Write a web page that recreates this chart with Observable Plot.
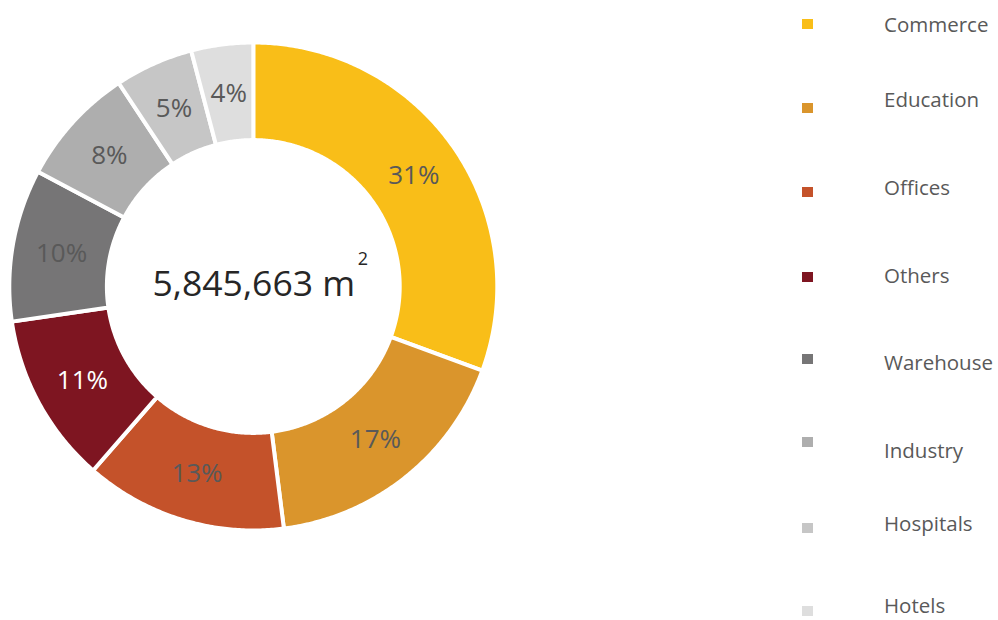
<!DOCTYPE html>
<html>
<head>
<meta charset="utf-8">
<script src="https://cdn.jsdelivr.net/npm/d3@7"></script>
<script src="https://cdn.jsdelivr.net/npm/@observablehq/plot@0.6"></script>
<style>
  html, body { margin: 0; padding: 0; background: #fff; overflow: hidden; }
  #wrap { position: relative; width: 998px; height: 620px; font-family: "Open Sans", sans-serif; }
  #legend { position: absolute; left: 0; top: 0; }
  .sw { position: absolute; width: 11px; height: 10px; }
  .lb { position: absolute; font-size: 20.5px; line-height: 18px; color: #595959; white-space: nowrap; }
</style>
</head>
<body>
<div id="wrap"><div id="legend"></div></div>
<script>
// ---- data ----
const categories = ["Commerce", "Education", "Offices", "Others", "Warehouse", "Industry", "Hospitals", "Hotels"];
const shares = [30.6, 17.4, 13.4, 11.3, 10.1, 7.9, 5.2, 4.1];
const shareLabels = ["31%", "17%", "13%", "11%", "10%", "8%", "5%", "4%"];
const totalArea = 5845663;
const areaUnit = "m";
const unitExponent = "2";

// ---- styles / layout ----
const palette = ["#F9BE18", "#DA952C", "#C4522A", "#7E1521", "#767576", "#AEAEAE", "#C6C6C6", "#DEDEDE"];
const legendSwatchY = [23.5, 107.5, 191.5, 276.5, 358.5, 442, 528, 611];
const legendTextY = [24, 99, 187, 275, 362, 450, 523, 605];
const cx = 253.3, cy = 286.5, Rpx = 244;
const innerRatio = 0.6;

// ---- build sectors ----
const total = d3.sum(shares);
let cum = 0;
const points = [];
const mids = [];
categories.forEach((cat, i) => {
  const a0 = cum / total * 2 * Math.PI;
  cum += shares[i];
  const a1 = cum / total * 2 * Math.PI;
  const n = Math.max(2, Math.ceil((a1 - a0) / (Math.PI / 360)));
  for (let k = 0; k <= n; k++) {
    const a = a0 + (a1 - a0) * k / n;
    points.push({cat, x1: Math.sin(a), y1: Math.cos(a), x2: innerRatio * Math.sin(a), y2: innerRatio * Math.cos(a)});
  }
  const am = (a0 + a1) / 2, rm = (1 + innerRatio) / 2;
  mids.push({cat, label: shareLabels[i], x: rm * Math.sin(am), y: rm * Math.cos(am), dark: d3.hsl(palette[i]).l < 0.35});
});

const chart = Plot.plot({
  width: 998,
  height: 620,
  margin: 0,
  style: {fontFamily: "Open Sans, sans-serif", background: "transparent"},
  x: {domain: [-1, 1], range: [cx - Rpx, cx + Rpx], axis: null},
  y: {domain: [-1, 1], range: [cy + Rpx, cy - Rpx], axis: null},
  color: {domain: categories, range: palette},
  marks: [
    Plot.area(points, {x1: "x1", y1: "y1", x2: "x2", y2: "y2", z: "cat", fill: "cat", stroke: "white", strokeWidth: 4, curve: "linear"}),
    Plot.text(mids.filter(d => !d.dark), {x: "x", y: "y", text: "label", fill: "#595959", fontSize: 26}),
    Plot.text(mids.filter(d => d.dark), {x: "x", y: "y", text: "label", fill: "white", fontSize: 26}),
    Plot.text([totalArea], {x: () => 0, y: () => 0, text: d => d3.format(",")(d) + " " + areaUnit, fontSize: 35.5, fill: "#262626", dy: -2.5}),
    Plot.text([unitExponent], {x: () => 0, y: () => 0, text: d => d, fontSize: 18, fill: "#262626", textAnchor: "start", dx: 104, dy: -28})
  ]
});
document.getElementById("wrap").prepend(chart);

const legend = document.getElementById("legend");
categories.forEach((cat, i) => {
  const sw = document.createElement("div");
  sw.className = "sw";
  sw.style.left = "802px";
  sw.style.top = (legendSwatchY[i] - 5) + "px";
  sw.style.background = palette[i];
  legend.appendChild(sw);
  const lb = document.createElement("div");
  lb.className = "lb";
  lb.style.left = "884px";
  lb.style.top = (legendTextY[i] - 9.5) + "px";
  lb.textContent = cat;
  legend.appendChild(lb);
});
</script>
</body>
</html>
